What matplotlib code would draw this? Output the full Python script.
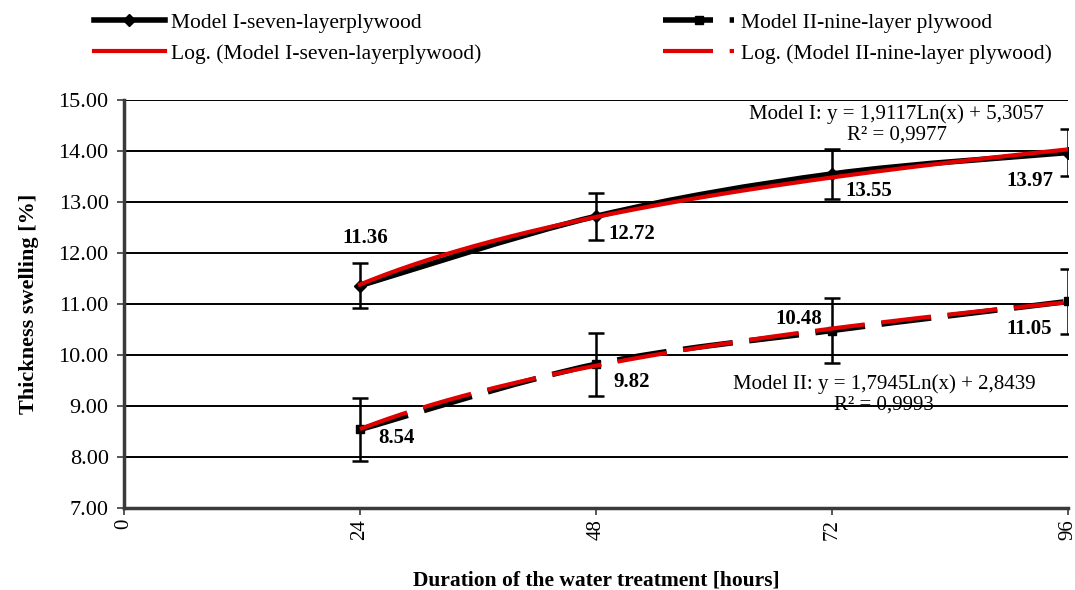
import matplotlib.pyplot as plt
from matplotlib.path import Path
from matplotlib.patches import PathPatch
from matplotlib.lines import Line2D
import numpy as np

plt.rcParams['font.family'] = ['Liberation Serif', 'DejaVu Serif']

# data
hours = [24, 48, 72, 96]
x_ticks = [0, 24, 48, 72, 96]
model1 = [11.36, 12.72, 13.55, 13.97]
model1_err = [0.44, 0.46, 0.49, 0.46]
model2 = [8.54, 9.82, 10.48, 11.05]
model2_err = [0.61, 0.62, 0.64, 0.64]
# log trendlines y = a*ln(x) + b, as printed on the chart
fit1 = (1.9117, 5.3057, 0.9977)
fit2 = (1.7945, 2.8439, 0.9993)

names = ['Model I-seven-layerplywood', 'Log. (Model I-seven-layerplywood)',
         'Model II-nine-layer plywood', 'Log. (Model II-nine-layer plywood)']

# label offsets in pixels (dx, dy, ha)
lab1 = [(5, 48, 'center'), (12, -18, 'left'), (13, -17, 'left'), (-15, -28, 'right')]
lab2 = [(18, -9, 'left'), (17, -18, 'left'), (-10, 12, 'right'), (-16, -28, 'right')]


def num(v):
    return ('%.4f' % v).replace('.', ',')


def smooth_path(x, y):
    # excel style smoothed line: bezier segments through the points
    pts = np.column_stack([x, y]).astype(float)
    n = len(pts)
    verts = [pts[0]]
    codes = [Path.MOVETO]
    for i in range(n - 1):
        p0 = pts[max(i - 1, 0)]
        p1 = pts[i]
        p2 = pts[i + 1]
        p3 = pts[min(i + 2, n - 1)]
        verts += [p1 + (p2 - p0) / 6.0, p2 - (p3 - p1) / 6.0, p2]
        codes += [Path.CURVE4] * 3
    return Path(verts, codes)


fig = plt.figure(figsize=(10.75, 5.9), dpi=100)
ax = fig.add_axes([0.1153, 0.139, 0.8782, 0.6915])

ax.set_xlim(0, 96)
ax.set_ylim(7, 15)
yt = np.arange(7, 15.01, 1)
ax.set_yticks(yt)
ax.set_yticklabels(['%.2f' % v for v in yt], fontsize=16)
ax.set_xticks(x_ticks)
ax.set_xticklabels([str(v) for v in x_ticks], rotation=90, fontsize=15)
ax.yaxis.grid(True, color='black', lw=1.4)
ax.set_axisbelow(True)
for s in ['top', 'right']:
    ax.spines[s].set_visible(False)
for s in ['left', 'bottom']:
    ax.spines[s].set_color('#3a3a3a')
    ax.spines[s].set_linewidth(2.5)
ax.tick_params(length=5, width=1.2, color='#3a3a3a', pad=3)
ax.tick_params(axis='y', pad=6)

xs = np.linspace(hours[0], hours[-1], 200)

# Model I
ax.add_patch(PathPatch(smooth_path(hours, model1), fill=False, edgecolor='black',
                       lw=4, capstyle='round', zorder=3))
ax.plot(hours, model1, ls='none', color='black', marker='D', ms=6, zorder=3)
ax.errorbar(hours, model1, yerr=model1_err, fmt='none', ecolor='black',
            elinewidth=1.8, capsize=6, capthick=1.8, zorder=4)
ax.plot(xs, fit1[0] * np.log(xs) + fit1[1], color='#e00000', lw=3, zorder=5)

# Model II
ax.add_patch(PathPatch(smooth_path(hours, model2), fill=False, edgecolor='black',
                       lw=4, linestyle=(0, (9, 3)), zorder=3))
ax.plot(hours, model2, ls='none', color='black', marker='s', ms=6, zorder=3)
ax.errorbar(hours, model2, yerr=model2_err, fmt='none', ecolor='black',
            elinewidth=1.8, capsize=6, capthick=1.8, zorder=4)
ax.plot(xs, fit2[0] * np.log(xs) + fit2[1], color='#e00000', lw=3,
        dashes=(12, 4), zorder=5)

for i in range(len(hours)):
    dx, dy, ha = lab1[i]
    ax.annotate('%.2f' % model1[i], (hours[i], model1[i]), xytext=(dx, dy),
                textcoords='offset pixels', ha=ha, va='center',
                fontsize=15, fontweight='bold', zorder=6)
    dx, dy, ha = lab2[i]
    ax.annotate('%.2f' % model2[i], (hours[i], model2[i]), xytext=(dx, dy),
                textcoords='offset pixels', ha=ha, va='center',
                fontsize=15, fontweight='bold', zorder=6)

ax.text(78.6, 14.52, 'Model I: y = %sLn(x) + %s\nR² = %s' % (num(fit1[0]), num(fit1[1]), num(fit1[2])),
        ha='center', va='center', fontsize=15, linespacing=1.15, zorder=6)
ax.text(77.3, 9.23, 'Model II: y = %sLn(x) + %s\nR² = %s' % (num(fit2[0]), num(fit2[1]), num(fit2[2])),
        ha='center', va='center', fontsize=15, linespacing=1.15, zorder=6)

ax.set_ylabel('Thickness swelling [%]', fontsize=16, fontweight='bold', labelpad=14)
ax.set_xlabel('Duration of the water treatment [hours]', fontsize=15.5, fontweight='bold', labelpad=22)

h1 = Line2D([], [], color='black', lw=4, marker='D', ms=6)
h2 = Line2D([], [], color='#e00000', lw=3)
h3 = Line2D([], [], color='black', lw=4, marker='s', ms=6, dashes=(9, 3))
h4 = Line2D([], [], color='#e00000', lw=3, dashes=(12, 4))

fig.legend([h1, h2], names[:2], loc='upper left', bbox_to_anchor=(0.075, 1.0),
           frameon=False, fontsize=15.5, handlelength=3.3, numpoints=1,
           labelspacing=0.5, handletextpad=0.3, borderaxespad=0.2)
fig.legend([h3, h4], names[2:], loc='upper left', bbox_to_anchor=(0.605, 1.0),
           frameon=False, fontsize=15.5, handlelength=3.3, numpoints=1,
           labelspacing=0.5, handletextpad=0.3, borderaxespad=0.2)

fig.savefig('out.png', dpi=100)
